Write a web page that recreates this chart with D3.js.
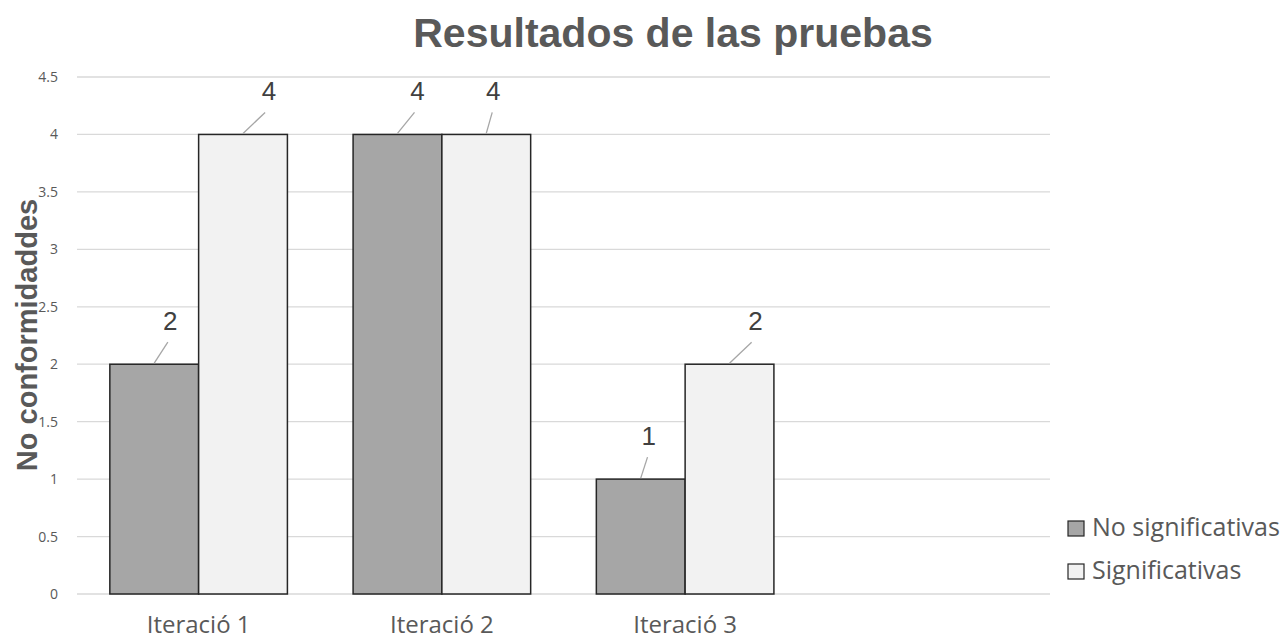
<!DOCTYPE html>
<html>
<head>
<meta charset="utf-8">
<script src="https://cdn.jsdelivr.net/npm/d3@7"></script>
<style>
  body { margin: 0; background: #fff; }
</style>
</head>
<body>
<svg width="1284" height="642"></svg>
<script>
const categories = ['Iteració 1', 'Iteració 2', 'Iteració 3'];
const seriesNames = ['No significativas', 'Significativas'];
const noSignificativas = [2, 4, 1];
const significativas = [4, 4, 2];
const yTicks = [0, 0.5, 1, 1.5, 2, 2.5, 3, 3.5, 4, 4.5];
const colors = ['#a6a6a6', '#f2f2f2'];

// label nudges (layout only) [series][category]
const labelDx = [[16, 20, 8], [26, 7, 26]];

const svg = d3.select('svg');
const plotLeft = 77;
const plotRight = 1050;
const plotTop = 77;
const plotBottom = 594;
const step = (plotRight - plotLeft) / 4;

const x = d3.scaleBand()
  .domain(categories)
  .range([plotLeft, plotLeft + step * categories.length])
  .paddingInner(0.27)
  .paddingOuter(0.135);
const xSeries = d3.scaleBand()
  .domain(seriesNames)
  .range([0, x.bandwidth()]);
const y = d3.scaleLinear()
  .domain([0, 4.5])
  .range([plotBottom, plotTop]);

// gridlines
svg.append('g')
  .selectAll('line')
  .data(yTicks)
  .join('line')
  .attr('x1', plotLeft)
  .attr('x2', plotRight)
  .attr('y1', d => y(d))
  .attr('y2', d => y(d))
  .attr('stroke', '#d9d9d9')
  .attr('stroke-width', 1.3);

const yAxis = svg.append('g')
  .attr('transform', `translate(${plotLeft - 16},0)`)
  .call(d3.axisLeft(y).tickValues(yTicks).tickSize(0).tickFormat(d3.format('')));
yAxis.select('.domain').remove();
yAxis.selectAll('text')
  .attr('font-family', '"Open Sans", sans-serif')
  .attr('font-size', 14)
  .attr('fill', '#595959');

const rows = [];
categories.forEach((c, i) => {
  rows.push({ cat: c, series: seriesNames[0], value: noSignificativas[i], s: 0, i });
  rows.push({ cat: c, series: seriesNames[1], value: significativas[i], s: 1, i });
});

svg.append('g')
  .selectAll('rect')
  .data(rows)
  .join('rect')
  .attr('x', d => x(d.cat) + xSeries(d.series))
  .attr('y', d => y(d.value))
  .attr('width', xSeries.bandwidth())
  .attr('height', d => y(0) - y(d.value))
  .attr('fill', d => colors[d.s])
  .attr('stroke', '#262626')
  .attr('stroke-width', 1.5);

// data labels with leader lines
const labels = svg.append('g');
rows.forEach((d) => {
  const cx = x(d.cat) + xSeries(d.series) + xSeries.bandwidth() / 2;
  const dx = labelDx[d.s][d.i];
  labels.append('line')
    .attr('x1', cx)
    .attr('y1', y(d.value) - 1)
    .attr('x2', cx + dx * 0.85)
    .attr('y2', y(d.value) - 22)
    .attr('stroke', '#a6a6a6')
    .attr('stroke-width', 1.3);
  labels.append('text')
    .attr('x', cx + dx)
    .attr('y', y(d.value) - 34)
    .attr('text-anchor', 'middle')
    .attr('font-family', '"Liberation Sans", Arial, sans-serif')
    .attr('font-size', 26)
    .attr('fill', '#404040')
    .text(d.value);
});

// x labels
svg.append('g')
  .selectAll('text')
  .data(categories)
  .join('text')
  .attr('x', d => x(d) + x.bandwidth() / 2)
  .attr('y', 633)
  .attr('text-anchor', 'middle')
  .attr('font-family', '"Open Sans", sans-serif')
  .attr('font-size', 24)
  .attr('fill', '#595959')
  .text(d => d);

// title
svg.append('text')
  .attr('x', 673)
  .attr('y', 47)
  .attr('text-anchor', 'middle')
  .attr('font-family', '"Liberation Sans", Arial, sans-serif')
  .attr('font-weight', 'bold')
  .attr('font-size', 41)
  .attr('fill', '#595959')
  .text('Resultados de las pruebas');

// y title
svg.append('text')
  .attr('transform', 'translate(37,335) rotate(-90)')
  .attr('text-anchor', 'middle')
  .attr('font-family', '"Liberation Sans", Arial, sans-serif')
  .attr('font-weight', 'bold')
  .attr('font-size', 29)
  .attr('fill', '#595959')
  .text('No conformidaddes');

// legend
const legend = svg.append('g')
  .selectAll('g')
  .data(seriesNames)
  .join('g')
  .attr('transform', (d, i) => `translate(1068,${528 + i * 43})`);
legend.append('rect')
  .attr('x', 0)
  .attr('y', -7)
  .attr('width', 16)
  .attr('height', 15)
  .attr('fill', (d, i) => colors[i])
  .attr('stroke', '#262626')
  .attr('stroke-width', 1.2);
legend.append('text')
  .attr('x', 24)
  .attr('y', 8)
  .attr('font-family', '"Open Sans", sans-serif')
  .attr('font-size', 25)
  .attr('fill', '#595959')
  .text(d => d);
</script>
</body>
</html>
